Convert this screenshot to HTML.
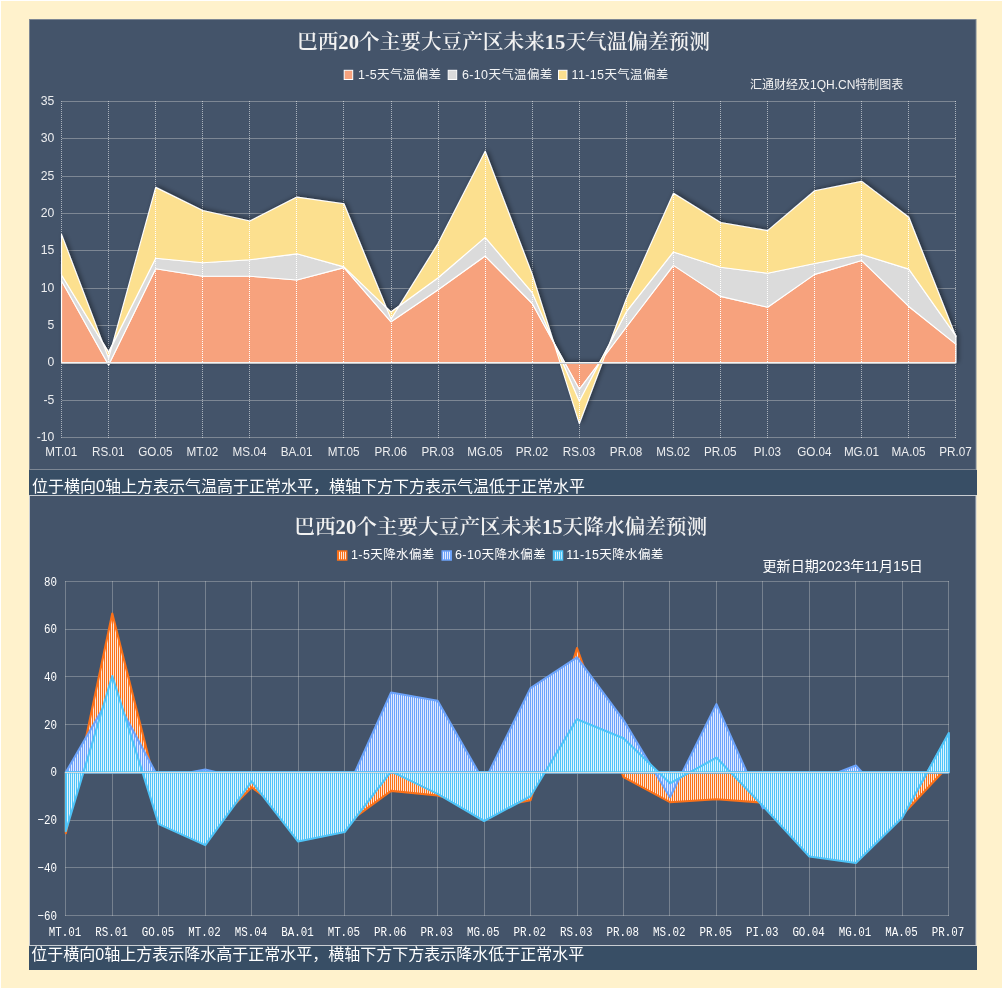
<!DOCTYPE html>
<html lang="zh-CN"><head><meta charset="utf-8"><title>巴西大豆产区天气预测</title>
<style>
html,body{margin:0;padding:0;background:#FFF2CC;}
body{width:1003px;height:989px;overflow:hidden;position:relative;}
svg{position:absolute;left:0;top:0;display:block;}
.sans{font-family:"Liberation Sans","Noto Sans CJK SC",sans-serif;}
.cjk{font-family:"Liberation Sans","Noto Sans CJK SC",sans-serif;}
.title{font-family:"Liberation Serif","Noto Serif CJK SC",serif;font-weight:600;}
.mono{font-family:"Liberation Mono","Noto Sans CJK SC",monospace;}
</style></head><body>
<svg width="1003" height="989" viewBox="0 0 1003 989">
<defs>
<filter id="sh" x="-5%" y="-10%" width="110%" height="120%"><feGaussianBlur in="SourceAlpha" stdDeviation="2.8"/><feOffset dx="2" dy="-1.5"/><feComponentTransfer><feFuncA type="linear" slope="0.42"/></feComponentTransfer><feMerge><feMergeNode/><feMergeNode in="SourceGraphic"/></feMerge></filter>
<pattern id="po" width="2" height="2" patternUnits="userSpaceOnUse"><rect width="2" height="2" fill="#FDE6D6"/><rect width="1" height="2" fill="#FB7119"/></pattern>
<pattern id="pb" width="2" height="2" patternUnits="userSpaceOnUse"><rect width="2" height="2" fill="#E1E9FF"/><rect width="1" height="2" fill="#6CA3FB"/></pattern>
<pattern id="pc" width="2" height="2" patternUnits="userSpaceOnUse"><rect width="2" height="2" fill="#DDF4FE"/><rect width="1" height="2" fill="#4FC4F8"/></pattern>
</defs>
<rect x="0" y="0" width="1003" height="989" fill="#FFFFFF"/>
<rect x="1" y="1" width="1001" height="987" fill="#FFF2CC"/>
<rect x="29.5" y="19.5" width="946.5" height="450" fill="#44546A" stroke="#7D8794" stroke-width="1"/>
<rect x="29" y="470" width="948" height="25" fill="#384E65"/>
<rect x="29.5" y="495.5" width="946.5" height="450" fill="#44546A" stroke="#C9CDD2" stroke-width="1"/>
<rect x="29" y="946" width="948" height="24" fill="#384E65"/>
<line x1="61.55" y1="437.5" x2="955.88" y2="437.5" stroke="#D9D9D9" stroke-opacity="0.38" stroke-width="1" shape-rendering="crispEdges"/>
<line x1="61.55" y1="400.5" x2="955.88" y2="400.5" stroke="#D9D9D9" stroke-opacity="0.38" stroke-width="1" shape-rendering="crispEdges"/>
<line x1="61.55" y1="325.5" x2="955.88" y2="325.5" stroke="#D9D9D9" stroke-opacity="0.38" stroke-width="1" shape-rendering="crispEdges"/>
<line x1="61.55" y1="288.5" x2="955.88" y2="288.5" stroke="#D9D9D9" stroke-opacity="0.38" stroke-width="1" shape-rendering="crispEdges"/>
<line x1="61.55" y1="250.5" x2="955.88" y2="250.5" stroke="#D9D9D9" stroke-opacity="0.38" stroke-width="1" shape-rendering="crispEdges"/>
<line x1="61.55" y1="213.5" x2="955.88" y2="213.5" stroke="#D9D9D9" stroke-opacity="0.38" stroke-width="1" shape-rendering="crispEdges"/>
<line x1="61.55" y1="176.5" x2="955.88" y2="176.5" stroke="#D9D9D9" stroke-opacity="0.38" stroke-width="1" shape-rendering="crispEdges"/>
<line x1="61.55" y1="138.5" x2="955.88" y2="138.5" stroke="#D9D9D9" stroke-opacity="0.38" stroke-width="1" shape-rendering="crispEdges"/>
<line x1="61.55" y1="101.5" x2="955.88" y2="101.5" stroke="#D9D9D9" stroke-opacity="0.38" stroke-width="1" shape-rendering="crispEdges"/>
<line x1="61.5" y1="101" x2="61.5" y2="438" stroke="#FFFFFF" stroke-opacity="0.55" stroke-width="1" stroke-dasharray="1 1" shape-rendering="crispEdges"/>
<line x1="108.5" y1="101" x2="108.5" y2="438" stroke="#FFFFFF" stroke-opacity="0.55" stroke-width="1" stroke-dasharray="1 1" shape-rendering="crispEdges"/>
<line x1="155.5" y1="101" x2="155.5" y2="438" stroke="#FFFFFF" stroke-opacity="0.55" stroke-width="1" stroke-dasharray="1 1" shape-rendering="crispEdges"/>
<line x1="202.5" y1="101" x2="202.5" y2="438" stroke="#FFFFFF" stroke-opacity="0.55" stroke-width="1" stroke-dasharray="1 1" shape-rendering="crispEdges"/>
<line x1="249.5" y1="101" x2="249.5" y2="438" stroke="#FFFFFF" stroke-opacity="0.55" stroke-width="1" stroke-dasharray="1 1" shape-rendering="crispEdges"/>
<line x1="296.5" y1="101" x2="296.5" y2="438" stroke="#FFFFFF" stroke-opacity="0.55" stroke-width="1" stroke-dasharray="1 1" shape-rendering="crispEdges"/>
<line x1="343.5" y1="101" x2="343.5" y2="438" stroke="#FFFFFF" stroke-opacity="0.55" stroke-width="1" stroke-dasharray="1 1" shape-rendering="crispEdges"/>
<line x1="391.5" y1="101" x2="391.5" y2="438" stroke="#FFFFFF" stroke-opacity="0.55" stroke-width="1" stroke-dasharray="1 1" shape-rendering="crispEdges"/>
<line x1="438.5" y1="101" x2="438.5" y2="438" stroke="#FFFFFF" stroke-opacity="0.55" stroke-width="1" stroke-dasharray="1 1" shape-rendering="crispEdges"/>
<line x1="485.5" y1="101" x2="485.5" y2="438" stroke="#FFFFFF" stroke-opacity="0.55" stroke-width="1" stroke-dasharray="1 1" shape-rendering="crispEdges"/>
<line x1="532.5" y1="101" x2="532.5" y2="438" stroke="#FFFFFF" stroke-opacity="0.55" stroke-width="1" stroke-dasharray="1 1" shape-rendering="crispEdges"/>
<line x1="579.5" y1="101" x2="579.5" y2="438" stroke="#FFFFFF" stroke-opacity="0.55" stroke-width="1" stroke-dasharray="1 1" shape-rendering="crispEdges"/>
<line x1="626.5" y1="101" x2="626.5" y2="438" stroke="#FFFFFF" stroke-opacity="0.55" stroke-width="1" stroke-dasharray="1 1" shape-rendering="crispEdges"/>
<line x1="673.5" y1="101" x2="673.5" y2="438" stroke="#FFFFFF" stroke-opacity="0.55" stroke-width="1" stroke-dasharray="1 1" shape-rendering="crispEdges"/>
<line x1="720.5" y1="101" x2="720.5" y2="438" stroke="#FFFFFF" stroke-opacity="0.55" stroke-width="1" stroke-dasharray="1 1" shape-rendering="crispEdges"/>
<line x1="767.5" y1="101" x2="767.5" y2="438" stroke="#FFFFFF" stroke-opacity="0.55" stroke-width="1" stroke-dasharray="1 1" shape-rendering="crispEdges"/>
<line x1="814.5" y1="101" x2="814.5" y2="438" stroke="#FFFFFF" stroke-opacity="0.55" stroke-width="1" stroke-dasharray="1 1" shape-rendering="crispEdges"/>
<line x1="861.5" y1="101" x2="861.5" y2="438" stroke="#FFFFFF" stroke-opacity="0.55" stroke-width="1" stroke-dasharray="1 1" shape-rendering="crispEdges"/>
<line x1="908.5" y1="101" x2="908.5" y2="438" stroke="#FFFFFF" stroke-opacity="0.55" stroke-width="1" stroke-dasharray="1 1" shape-rendering="crispEdges"/>
<line x1="955.5" y1="101" x2="955.5" y2="438" stroke="#FFFFFF" stroke-opacity="0.55" stroke-width="1" stroke-dasharray="1 1" shape-rendering="crispEdges"/>
<g filter="url(#sh)" stroke="#FFFFFF" stroke-width="1.15" stroke-linejoin="round">
<polygon points="61.55,280.7 108.62,365.07 155.69,268.75 202.76,276.22 249.83,276.22 296.9,279.95 343.97,267.63 391.04,321.76 438.11,289.66 485.18,256.06 532.25,303.47 579.32,389.34 626.39,326.99 673.46,265.39 720.53,296.38 767.6,307.2 814.67,274.35 861.74,260.54 908.81,306.46 955.88,344.16 955.88,362.83 908.81,362.83 861.74,362.83 814.67,362.83 767.6,362.83 720.53,362.83 673.46,362.83 626.39,362.83 579.32,362.83 532.25,362.83 485.18,362.83 438.11,362.83 391.04,362.83 343.97,362.83 296.9,362.83 249.83,362.83 202.76,362.83 155.69,362.83 108.62,362.83 61.55,362.83" fill="#F7A27D"/>
<polygon points="61.55,275.02 108.62,352.38 155.69,258.3 202.76,262.78 249.83,259.79 296.9,253.82 343.97,266.88 391.04,312.06 438.11,277.71 485.18,237.39 532.25,292.64 579.32,401.28 626.39,311.68 673.46,251.95 720.53,267.26 767.6,273.23 814.67,263.52 861.74,254.56 908.81,269.12 955.88,335.95 955.88,344.16 908.81,306.46 861.74,260.54 814.67,274.35 767.6,307.2 720.53,296.38 673.46,265.39 626.39,326.99 579.32,389.34 532.25,303.47 485.18,256.06 438.11,289.66 391.04,321.76 343.97,267.63 296.9,279.95 249.83,276.22 202.76,276.22 155.69,268.75 108.62,365.07 61.55,280.7" fill="#DBDBDB"/>
<polygon points="61.55,234.4 108.62,358.35 155.69,187.36 202.76,210.51 249.83,220.96 296.9,197.07 343.97,203.79 391.04,319.15 438.11,243.36 485.18,151.15 532.25,274.35 579.32,423.68 626.39,298.62 673.46,193.34 720.53,222.46 767.6,230.67 814.67,190.72 861.74,181.39 908.81,217.23 955.88,336.7 955.88,335.95 908.81,269.12 861.74,254.56 814.67,263.52 767.6,273.23 720.53,267.26 673.46,251.95 626.39,311.68 579.32,401.28 532.25,292.64 485.18,237.39 438.11,277.71 391.04,312.06 343.97,266.88 296.9,253.82 249.83,259.79 202.76,262.78 155.69,258.3 108.62,352.38 61.55,275.02" fill="#FCE08F"/>
</g>
<line x1="61.5" y1="235" x2="61.5" y2="362" stroke="#FFFFFF" stroke-width="1" stroke-dasharray="1 1" shape-rendering="crispEdges"/>
<line x1="108.5" y1="353" x2="108.5" y2="365" stroke="#FFFFFF" stroke-width="1" stroke-dasharray="1 1" shape-rendering="crispEdges"/>
<line x1="155.5" y1="187" x2="155.5" y2="362" stroke="#FFFFFF" stroke-width="1" stroke-dasharray="1 1" shape-rendering="crispEdges"/>
<line x1="202.5" y1="211" x2="202.5" y2="362" stroke="#FFFFFF" stroke-width="1" stroke-dasharray="1 1" shape-rendering="crispEdges"/>
<line x1="249.5" y1="221" x2="249.5" y2="362" stroke="#FFFFFF" stroke-width="1" stroke-dasharray="1 1" shape-rendering="crispEdges"/>
<line x1="296.5" y1="197" x2="296.5" y2="362" stroke="#FFFFFF" stroke-width="1" stroke-dasharray="1 1" shape-rendering="crispEdges"/>
<line x1="343.5" y1="203" x2="343.5" y2="362" stroke="#FFFFFF" stroke-width="1" stroke-dasharray="1 1" shape-rendering="crispEdges"/>
<line x1="391.5" y1="313" x2="391.5" y2="362" stroke="#FFFFFF" stroke-width="1" stroke-dasharray="1 1" shape-rendering="crispEdges"/>
<line x1="438.5" y1="243" x2="438.5" y2="362" stroke="#FFFFFF" stroke-width="1" stroke-dasharray="1 1" shape-rendering="crispEdges"/>
<line x1="485.5" y1="151" x2="485.5" y2="362" stroke="#FFFFFF" stroke-width="1" stroke-dasharray="1 1" shape-rendering="crispEdges"/>
<line x1="532.5" y1="275" x2="532.5" y2="362" stroke="#FFFFFF" stroke-width="1" stroke-dasharray="1 1" shape-rendering="crispEdges"/>
<line x1="579.5" y1="363" x2="579.5" y2="423" stroke="#FFFFFF" stroke-width="1" stroke-dasharray="1 1" shape-rendering="crispEdges"/>
<line x1="626.5" y1="299" x2="626.5" y2="362" stroke="#FFFFFF" stroke-width="1" stroke-dasharray="1 1" shape-rendering="crispEdges"/>
<line x1="673.5" y1="193" x2="673.5" y2="362" stroke="#FFFFFF" stroke-width="1" stroke-dasharray="1 1" shape-rendering="crispEdges"/>
<line x1="720.5" y1="223" x2="720.5" y2="362" stroke="#FFFFFF" stroke-width="1" stroke-dasharray="1 1" shape-rendering="crispEdges"/>
<line x1="767.5" y1="231" x2="767.5" y2="362" stroke="#FFFFFF" stroke-width="1" stroke-dasharray="1 1" shape-rendering="crispEdges"/>
<line x1="814.5" y1="191" x2="814.5" y2="362" stroke="#FFFFFF" stroke-width="1" stroke-dasharray="1 1" shape-rendering="crispEdges"/>
<line x1="861.5" y1="181" x2="861.5" y2="362" stroke="#FFFFFF" stroke-width="1" stroke-dasharray="1 1" shape-rendering="crispEdges"/>
<line x1="908.5" y1="217" x2="908.5" y2="362" stroke="#FFFFFF" stroke-width="1" stroke-dasharray="1 1" shape-rendering="crispEdges"/>
<line x1="955.5" y1="335" x2="955.5" y2="362" stroke="#FFFFFF" stroke-width="1" stroke-dasharray="1 1" shape-rendering="crispEdges"/>
<line x1="61" y1="362.5" x2="956" y2="362.5" stroke="#F4F4F4" stroke-width="1" shape-rendering="crispEdges"/>
<line x1="61" y1="363.5" x2="956" y2="363.5" stroke="#BFC2C6" stroke-width="1" shape-rendering="crispEdges"/>
<g class="sans" font-size="12.6" fill="#EDEEF0" text-anchor="end" transform="scale(0.97,1)">
<text x="55.98" y="441">-10</text>
<text x="55.98" y="404">-5</text>
<text x="55.98" y="366">0</text>
<text x="55.98" y="329">5</text>
<text x="55.98" y="292">10</text>
<text x="55.98" y="254">15</text>
<text x="55.98" y="217">20</text>
<text x="55.98" y="180">25</text>
<text x="55.98" y="142">30</text>
<text x="55.98" y="105">35</text>
</g>
<g class="sans" font-size="12.2" fill="#EDEEF0" text-anchor="middle" transform="scale(0.96,1)">
<text x="63.8" y="456">MT.01</text>
<text x="112.83" y="456">RS.01</text>
<text x="161.86" y="456">GO.05</text>
<text x="210.9" y="456">MT.02</text>
<text x="259.93" y="456">MS.04</text>
<text x="308.96" y="456">BA.01</text>
<text x="357.99" y="456">MT.05</text>
<text x="407.02" y="456">PR.06</text>
<text x="456.05" y="456">PR.03</text>
<text x="505.08" y="456">MG.05</text>
<text x="554.11" y="456">PR.02</text>
<text x="603.15" y="456">RS.03</text>
<text x="652.18" y="456">PR.08</text>
<text x="701.21" y="456">MS.02</text>
<text x="750.24" y="456">PR.05</text>
<text x="799.27" y="456">PI.03</text>
<text x="848.3" y="456">GO.04</text>
<text x="897.33" y="456">MG.01</text>
<text x="946.36" y="456">MA.05</text>
<text x="995.4" y="456">PR.07</text>
</g>
<text class="title" x="503.5" y="49" font-size="20.65" fill="#F2F2F2" text-anchor="middle">巴西20个主要大豆产区未来15天气温偏差预测</text>
<rect x="344.2" y="70.3" width="8.5" height="9.2" fill="#F7A27D" stroke="#FFFFFF" stroke-width="1"/>
<text class="cjk" x="358" y="79.3" font-size="12.5" fill="#F4F5F6" letter-spacing="0.35">1-5天气温偏差</text>
<rect x="448.2" y="70.3" width="8.5" height="9.2" fill="#DBDBDB" stroke="#FFFFFF" stroke-width="1"/>
<text class="cjk" x="462" y="79.3" font-size="12.5" fill="#F4F5F6" letter-spacing="0.35">6-10天气温偏差</text>
<rect x="558.5" y="70.3" width="8.5" height="9.2" fill="#FCE08F" stroke="#FFFFFF" stroke-width="1"/>
<text class="cjk" x="571.6" y="79.3" font-size="12.5" fill="#F4F5F6" letter-spacing="0.35">11-15天气温偏差</text>
<text class="cjk" x="750" y="89" font-size="12" fill="#F2F2F2">汇通财经及1QH.CN特制图表</text>
<text class="cjk" x="32" y="492" font-size="16" fill="#FFFFFF">位于横向0轴上方表示气温高于正常水平，横轴下方下方表示气温低于正常水平</text>
<line x1="65" y1="915.5" x2="949" y2="915.5" stroke="#D9D9D9" stroke-opacity="0.34" stroke-width="1" shape-rendering="crispEdges"/>
<line x1="65" y1="867.5" x2="949" y2="867.5" stroke="#D9D9D9" stroke-opacity="0.34" stroke-width="1" shape-rendering="crispEdges"/>
<line x1="65" y1="820.5" x2="949" y2="820.5" stroke="#D9D9D9" stroke-opacity="0.34" stroke-width="1" shape-rendering="crispEdges"/>
<line x1="65" y1="772.5" x2="949" y2="772.5" stroke="#D9D9D9" stroke-opacity="0.34" stroke-width="1" shape-rendering="crispEdges"/>
<line x1="65" y1="724.5" x2="949" y2="724.5" stroke="#D9D9D9" stroke-opacity="0.34" stroke-width="1" shape-rendering="crispEdges"/>
<line x1="65" y1="676.5" x2="949" y2="676.5" stroke="#D9D9D9" stroke-opacity="0.34" stroke-width="1" shape-rendering="crispEdges"/>
<line x1="65" y1="629.5" x2="949" y2="629.5" stroke="#D9D9D9" stroke-opacity="0.34" stroke-width="1" shape-rendering="crispEdges"/>
<line x1="65" y1="581.5" x2="949" y2="581.5" stroke="#D9D9D9" stroke-opacity="0.34" stroke-width="1" shape-rendering="crispEdges"/>
<line x1="65.5" y1="581" x2="65.5" y2="916" stroke="#D9D9D9" stroke-opacity="0.34" stroke-width="1" shape-rendering="crispEdges"/>
<line x1="112.5" y1="581" x2="112.5" y2="916" stroke="#D9D9D9" stroke-opacity="0.34" stroke-width="1" shape-rendering="crispEdges"/>
<line x1="158.5" y1="581" x2="158.5" y2="916" stroke="#D9D9D9" stroke-opacity="0.34" stroke-width="1" shape-rendering="crispEdges"/>
<line x1="205.5" y1="581" x2="205.5" y2="916" stroke="#D9D9D9" stroke-opacity="0.34" stroke-width="1" shape-rendering="crispEdges"/>
<line x1="251.5" y1="581" x2="251.5" y2="916" stroke="#D9D9D9" stroke-opacity="0.34" stroke-width="1" shape-rendering="crispEdges"/>
<line x1="298.5" y1="581" x2="298.5" y2="916" stroke="#D9D9D9" stroke-opacity="0.34" stroke-width="1" shape-rendering="crispEdges"/>
<line x1="344.5" y1="581" x2="344.5" y2="916" stroke="#D9D9D9" stroke-opacity="0.34" stroke-width="1" shape-rendering="crispEdges"/>
<line x1="391.5" y1="581" x2="391.5" y2="916" stroke="#D9D9D9" stroke-opacity="0.34" stroke-width="1" shape-rendering="crispEdges"/>
<line x1="437.5" y1="581" x2="437.5" y2="916" stroke="#D9D9D9" stroke-opacity="0.34" stroke-width="1" shape-rendering="crispEdges"/>
<line x1="484.5" y1="581" x2="484.5" y2="916" stroke="#D9D9D9" stroke-opacity="0.34" stroke-width="1" shape-rendering="crispEdges"/>
<line x1="530.5" y1="581" x2="530.5" y2="916" stroke="#D9D9D9" stroke-opacity="0.34" stroke-width="1" shape-rendering="crispEdges"/>
<line x1="577.5" y1="581" x2="577.5" y2="916" stroke="#D9D9D9" stroke-opacity="0.34" stroke-width="1" shape-rendering="crispEdges"/>
<line x1="623.5" y1="581" x2="623.5" y2="916" stroke="#D9D9D9" stroke-opacity="0.34" stroke-width="1" shape-rendering="crispEdges"/>
<line x1="669.5" y1="581" x2="669.5" y2="916" stroke="#D9D9D9" stroke-opacity="0.34" stroke-width="1" shape-rendering="crispEdges"/>
<line x1="716.5" y1="581" x2="716.5" y2="916" stroke="#D9D9D9" stroke-opacity="0.34" stroke-width="1" shape-rendering="crispEdges"/>
<line x1="762.5" y1="581" x2="762.5" y2="916" stroke="#D9D9D9" stroke-opacity="0.34" stroke-width="1" shape-rendering="crispEdges"/>
<line x1="809.5" y1="581" x2="809.5" y2="916" stroke="#D9D9D9" stroke-opacity="0.34" stroke-width="1" shape-rendering="crispEdges"/>
<line x1="855.5" y1="581" x2="855.5" y2="916" stroke="#D9D9D9" stroke-opacity="0.34" stroke-width="1" shape-rendering="crispEdges"/>
<line x1="902.5" y1="581" x2="902.5" y2="916" stroke="#D9D9D9" stroke-opacity="0.34" stroke-width="1" shape-rendering="crispEdges"/>
<line x1="948.5" y1="581" x2="948.5" y2="916" stroke="#D9D9D9" stroke-opacity="0.34" stroke-width="1" shape-rendering="crispEdges"/>
<g stroke-width="2.1" stroke-linejoin="round">
<polygon points="65.8,833.2 112.27,613.47 158.75,797.41 205.22,834.15 251.69,787.27 298.17,822.7 344.64,824.85 391.12,790.85 437.59,795.5 484.06,809.34 530.54,800.27 577.01,648.07 623.48,777.13 669.96,802.18 716.43,799.32 762.91,802.66 809.38,842.74 855.85,842.74 902.33,815.06 948.8,765.44 948.8,772.36 902.33,772.36 855.85,772.36 809.38,772.36 762.91,772.36 716.43,772.36 669.96,772.36 623.48,772.36 577.01,772.36 530.54,772.36 484.06,772.36 437.59,772.36 391.12,772.36 344.64,772.36 298.17,772.36 251.69,772.36 205.22,772.36 158.75,772.36 112.27,772.36 65.8,772.36" fill="url(#po)" stroke="#FB7119"/>
<polygon points="65.8,772.36 112.27,692.2 158.75,778.32 205.22,769.5 251.69,780.71 298.17,790.25 344.64,795.02 391.12,692.44 437.59,700.79 484.06,781.9 530.54,688.14 577.01,657.37 623.48,720.11 669.96,797.17 716.43,704.13 762.91,808.38 809.38,783.57 855.85,765.44 902.33,816.5 948.8,734.19 948.8,772.36 902.33,772.36 855.85,772.36 809.38,772.36 762.91,772.36 716.43,772.36 669.96,772.36 623.48,772.36 577.01,772.36 530.54,772.36 484.06,772.36 437.59,772.36 391.12,772.36 344.64,772.36 298.17,772.36 251.69,772.36 205.22,772.36 158.75,772.36 112.27,772.36 65.8,772.36" fill="url(#pb)" stroke="#6CA3FB"/>
<polygon points="65.8,831.29 112.27,675.98 158.75,824.13 205.22,845.12 251.69,781.43 298.17,841.55 344.64,832 391.12,771.41 437.59,793.83 484.06,821.03 530.54,796.22 577.01,719.16 623.48,738.24 669.96,783.33 716.43,757.57 762.91,806 809.38,856.58 855.85,863.02 902.33,817.45 948.8,733 948.8,772.36 902.33,772.36 855.85,772.36 809.38,772.36 762.91,772.36 716.43,772.36 669.96,772.36 623.48,772.36 577.01,772.36 530.54,772.36 484.06,772.36 437.59,772.36 391.12,772.36 344.64,772.36 298.17,772.36 251.69,772.36 205.22,772.36 158.75,772.36 112.27,772.36 65.8,772.36" fill="url(#pc)" stroke="#4FC4F8"/>
</g>
<line x1="65" y1="772.5" x2="949" y2="772.5" stroke="#D6DADC" stroke-width="1" shape-rendering="crispEdges"/>
<g class="mono" font-size="13.2" fill="#FFFFFF">
<text x="37.5" y="920" textLength="19.5" lengthAdjust="spacingAndGlyphs">−60</text>
<text x="37.5" y="872" textLength="19.5" lengthAdjust="spacingAndGlyphs">−40</text>
<text x="37.5" y="824" textLength="19.5" lengthAdjust="spacingAndGlyphs">−20</text>
<text x="50.5" y="776" textLength="6.5" lengthAdjust="spacingAndGlyphs">0</text>
<text x="44" y="729" textLength="13" lengthAdjust="spacingAndGlyphs">20</text>
<text x="44" y="681" textLength="13" lengthAdjust="spacingAndGlyphs">40</text>
<text x="44" y="633" textLength="13" lengthAdjust="spacingAndGlyphs">60</text>
<text x="44" y="586" textLength="13" lengthAdjust="spacingAndGlyphs">80</text>
</g>
<g class="mono" font-size="13.2" fill="#FFFFFF">
<text x="48.8" y="936" textLength="32.5" lengthAdjust="spacingAndGlyphs">MT.01</text>
<text x="95.27" y="936" textLength="32.5" lengthAdjust="spacingAndGlyphs">RS.01</text>
<text x="141.75" y="936" textLength="32.5" lengthAdjust="spacingAndGlyphs">GO.05</text>
<text x="188.22" y="936" textLength="32.5" lengthAdjust="spacingAndGlyphs">MT.02</text>
<text x="234.69" y="936" textLength="32.5" lengthAdjust="spacingAndGlyphs">MS.04</text>
<text x="281.17" y="936" textLength="32.5" lengthAdjust="spacingAndGlyphs">BA.01</text>
<text x="327.64" y="936" textLength="32.5" lengthAdjust="spacingAndGlyphs">MT.05</text>
<text x="374.12" y="936" textLength="32.5" lengthAdjust="spacingAndGlyphs">PR.06</text>
<text x="420.59" y="936" textLength="32.5" lengthAdjust="spacingAndGlyphs">PR.03</text>
<text x="467.06" y="936" textLength="32.5" lengthAdjust="spacingAndGlyphs">MG.05</text>
<text x="513.54" y="936" textLength="32.5" lengthAdjust="spacingAndGlyphs">PR.02</text>
<text x="560.01" y="936" textLength="32.5" lengthAdjust="spacingAndGlyphs">RS.03</text>
<text x="606.48" y="936" textLength="32.5" lengthAdjust="spacingAndGlyphs">PR.08</text>
<text x="652.96" y="936" textLength="32.5" lengthAdjust="spacingAndGlyphs">MS.02</text>
<text x="699.43" y="936" textLength="32.5" lengthAdjust="spacingAndGlyphs">PR.05</text>
<text x="745.91" y="936" textLength="32.5" lengthAdjust="spacingAndGlyphs">PI.03</text>
<text x="792.38" y="936" textLength="32.5" lengthAdjust="spacingAndGlyphs">GO.04</text>
<text x="838.85" y="936" textLength="32.5" lengthAdjust="spacingAndGlyphs">MG.01</text>
<text x="885.33" y="936" textLength="32.5" lengthAdjust="spacingAndGlyphs">MA.05</text>
<text x="931.8" y="936" textLength="32.5" lengthAdjust="spacingAndGlyphs">PR.07</text>
</g>
<text class="title" x="500.7" y="533.5" font-size="20.65" fill="#F2F2F2" text-anchor="middle">巴西20个主要大豆产区未来15天降水偏差预测</text>
<rect x="337.7" y="551" width="9" height="9" fill="url(#po)" stroke="#FB7119" stroke-width="1.5"/>
<text class="cjk" x="351" y="559" font-size="12.5" fill="#FFFFFF" letter-spacing="0.4">1-5天降水偏差</text>
<rect x="442.2" y="551" width="9" height="9" fill="url(#pb)" stroke="#6CA3FB" stroke-width="1.5"/>
<text class="cjk" x="455" y="559" font-size="12.5" fill="#FFFFFF" letter-spacing="0.4">6-10天降水偏差</text>
<rect x="553.5" y="551" width="9" height="9" fill="url(#pc)" stroke="#4FC4F8" stroke-width="1.5"/>
<text class="cjk" x="566.2" y="559" font-size="12.5" fill="#FFFFFF" letter-spacing="0.4">11-15天降水偏差</text>
<text class="cjk" x="762.5" y="571" font-size="14.1" fill="#FFFFFF">更新日期2023年11月15日</text>
<text class="cjk" x="31.3" y="960" font-size="16" fill="#FFFFFF">位于横向0轴上方表示降水高于正常水平，横轴下方下方表示降水低于正常水平</text>
</svg></body></html>
